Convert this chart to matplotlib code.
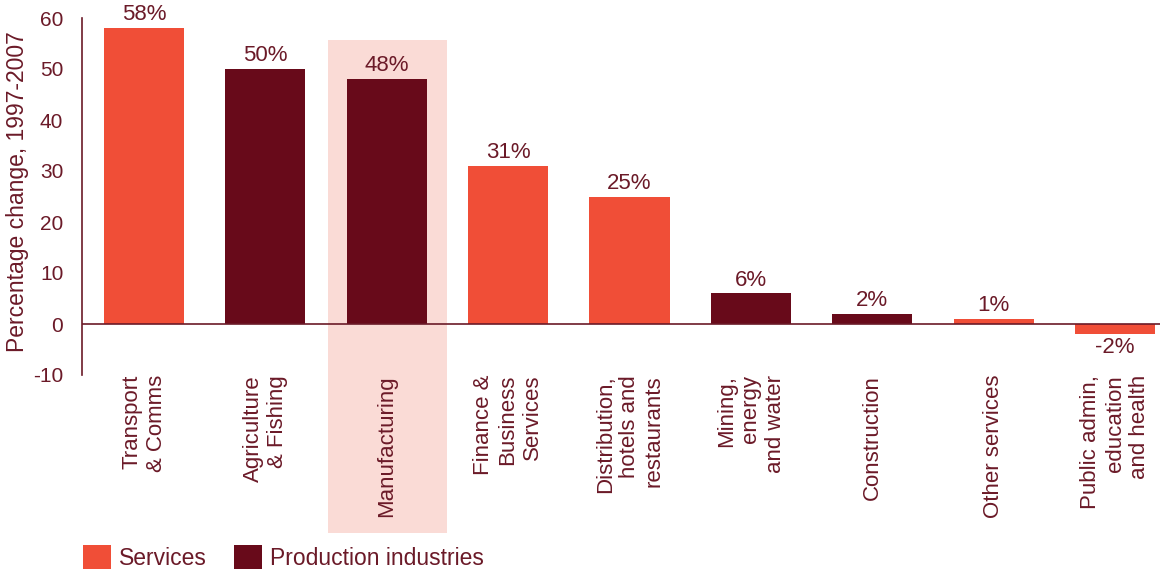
import matplotlib.pyplot as plt
import matplotlib.transforms as mtransforms
from matplotlib.patches import Patch, Rectangle

plt.rcParams['font.family'] = ['Liberation Sans', 'DejaVu Sans']
plt.rcParams['axes.unicode_minus'] = False

categories = ['Transport\n& Comms', 'Agriculture\n& Fishing', 'Manufacturing',
              'Finance &\nBusiness\nServices', 'Distribution,\nhotels and\nrestaurants',
              'Mining,\nenergy\nand water', 'Construction', 'Other services',
              'Public admin,\neducation\nand health']
values = [58, 50, 48, 31, 25, 6, 2, 1, -2]
groups = ['Services', 'Production industries', 'Production industries', 'Services',
          'Services', 'Production industries', 'Production industries', 'Services',
          'Services']
yticks = [-10, 0, 10, 20, 30, 40, 50, 60]

services_col = '#F04E37'
production_col = '#680A1A'
text_col = '#6B1A28'
pink = '#FADBD6'

fig = plt.figure(figsize=(11.76, 5.71), dpi=100)
ax = fig.add_axes([82 / 1176, 1 - 375 / 571, (1160 - 82) / 1176, (375 - 18) / 571])

x = list(range(len(categories)))
colors = [services_col if g == 'Services' else production_col for g in groups]
ax.bar(x, values, width=0.66, color=colors, zorder=2)

# highlight behind Manufacturing
blend = mtransforms.blended_transform_factory(ax.transData, fig.transFigure)
ax.add_patch(Rectangle((1.516, 1 - 533 / 571), 0.98, (533 - 40) / 571, transform=blend,
                       facecolor=pink, edgecolor='none', clip_on=False, zorder=0))

for i, v in enumerate(values):
    if v >= 0:
        ax.annotate(f'{v}%', (i, v), xytext=(0, 2), textcoords='offset points',
                    ha='center', va='bottom', fontsize=16, color=text_col)
    else:
        ax.annotate(f'{v}%', (i, v), xytext=(0, -2), textcoords='offset points',
                    ha='center', va='top', fontsize=16, color=text_col)

ax.axhline(0, color=text_col, lw=1.2, zorder=3)
ax.set_xlim(-0.51, 8.37)
ax.set_ylim(-10, 60)
ax.set_yticks(yticks)
ax.tick_params(axis='y', length=0, pad=13.5, labelsize=15, labelcolor=text_col)
ax.set_xticks(x)
ax.set_xticklabels(categories, rotation=90, va='top', ha='center', multialignment='right',
                   fontsize=16, linespacing=1.2, color=text_col)
ax.tick_params(axis='x', length=0, pad=0)

for s in ['top', 'right', 'bottom']:
    ax.spines[s].set_visible(False)
ax.spines['left'].set_color(text_col)
ax.spines['left'].set_linewidth(1.2)
ax.patch.set_alpha(0)

ax.set_ylabel('Percentage change, 1997-2007', fontsize=16.5, color=text_col)
ax.yaxis.set_label_coords(-0.049, 0.514)

handles = [Patch(facecolor=services_col, label='Services'),
           Patch(facecolor=production_col, label='Production industries')]
fig.legend(handles=handles, loc='lower left', bbox_to_anchor=(83 / 1176, 1 / 571),
           ncol=2, frameon=False, fontsize=16.5, labelcolor=text_col,
           handlelength=1.22, handleheight=1.22, handletextpad=0.35,
           columnspacing=1.2, borderpad=0, borderaxespad=0)

fig.savefig('out.png', dpi=100)
